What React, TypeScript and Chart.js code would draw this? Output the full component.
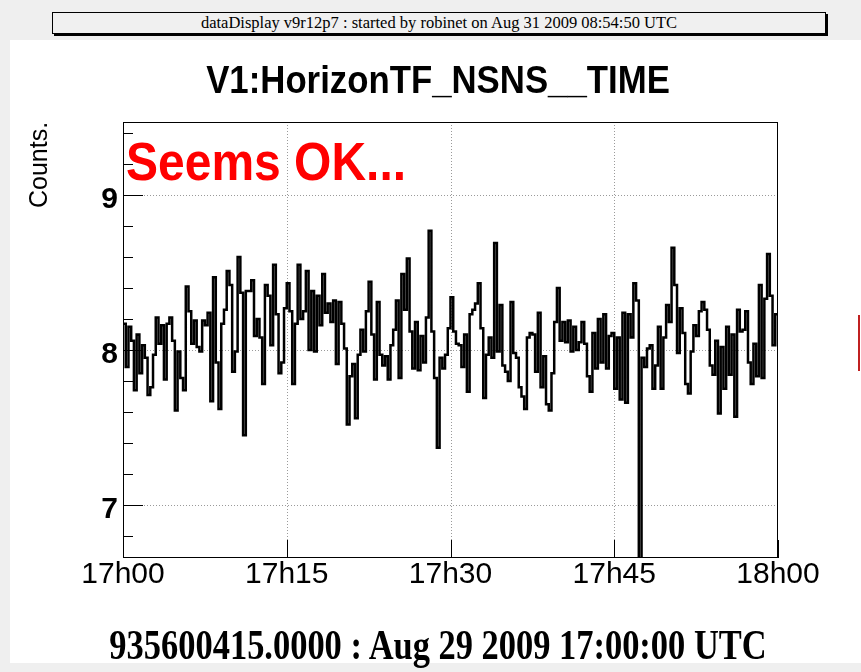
import React, { useEffect, useRef } from "react";
import { Chart, registerables } from "chart.js";

Chart.register(...registerables);

// ---- data ----
const tickLabels = ["17h00", "17h15", "17h30", "17h45", "18h00"];
const tickMinutes = [0, 15, 30, 45, 60];
const binMinutes = 0.25; // 15 s bins

// 17h00 - 17h15
const q1Counts = [
  8.17, 7.89, 8.15, 8.06, 7.74, 8.1, 7.85, 8.03, 7.95, 7.71,
  7.76, 7.97, 8.21, 8.04, 8.16, 7.81, 8.17, 8.21, 8.06, 7.61,
  7.99, 7.82, 7.74, 8.41, 8.25, 8.04, 8.19, 8.02, 7.99, 8.19,
  8.16, 8.24, 7.67, 8.47, 7.92, 7.62, 8.17, 8.26, 8.51, 8.42,
  7.86, 7.99, 8.6, 8.37, 7.45, 8.38, 8.38, 8.45, 8.09, 8.2,
  8.08, 7.78, 8.42, 8.35, 8.03, 8.55, 8.23, 7.85, 7.92, 8.27,
];
// 17h15 - 17h30
const q2Counts = [
  8.43, 8.25, 7.78, 8.17, 8.55, 8.2, 8.25, 8.51, 8.0, 8.38,
  7.99, 8.35, 8.16, 8.49, 8.24, 8.3, 8.18, 8.32, 7.91, 8.31,
  8.17, 8.01, 7.52, 7.83, 7.91, 7.56, 7.97, 8.13, 7.99, 8.25,
  8.44, 8.1, 7.81, 8.31, 7.97, 7.9, 7.96, 7.81, 8.03, 8.13,
  8.32, 7.82, 8.49, 8.26, 8.59, 8.12, 7.88, 8.18, 7.87, 8.09,
  7.92, 8.21, 8.77, 8.12, 7.82, 7.37, 7.95, 7.88, 7.97, 8.14,
];
// 17h30 - 17h45
const q3Counts = [
  8.34, 8.12, 8.04, 8.03, 7.89, 8.1, 7.73, 8.23, 8.26, 8.3,
  8.43, 8.14, 7.69, 7.97, 8.08, 7.95, 8.69, 7.99, 8.29, 7.9,
  7.86, 7.8, 8.31, 7.98, 7.95, 7.76, 7.7, 7.62, 8.08, 8.11,
  8.1, 7.86, 8.24, 7.76, 7.96, 7.65, 7.61, 7.85, 8.18, 8.4,
  8.06, 8.18, 8.05, 8.19, 7.99, 8.15, 8.0, 8.05, 8.18, 8.04,
  7.83, 7.73, 8.11, 7.88, 8.2, 7.92, 8.23, 7.88, 8.09, 8.11,
];
// 17h45 - 18h00
const q4Counts = [
  7.75, 8.08, 7.68, 8.24, 7.66, 8.23, 8.08, 8.43, 8.32, 6.5,
  7.95, 7.89, 8.01, 8.03, 7.75, 7.9, 8.15, 7.75, 8.08, 8.29,
  8.18, 8.66, 8.42, 7.98, 8.27, 8.11, 7.78, 7.72, 7.99, 8.16,
  8.09, 8.25, 8.31, 8.26, 8.13, 7.9, 7.84, 8.06, 7.59, 8.02,
  7.75, 8.15, 7.84, 8.1, 7.57, 8.26, 8.12, 8.13, 8.25, 7.92,
  7.78, 8.04, 7.83, 8.42, 7.82, 8.33, 8.62, 8.35, 8.03, 8.23,
];

const yMin = 6.658;
const yMax = 9.471;
const yMajorTicks = [7, 8, 9];
const yMinorStep = 0.2;

const SANS = "'Liberation Sans', Arial, Helvetica, sans-serif";
const SERIF = "'Liberation Serif', 'Times New Roman', serif";

export default function App() {
  const canvasRef = useRef<HTMLCanvasElement | null>(null);

  useEffect(() => {
    const canvas = canvasRef.current;
    if (!canvas) return;
    const counts = [...q1Counts, ...q2Counts, ...q3Counts, ...q4Counts];
    const pts = counts.map((v, i) => ({ x: i * binMinutes, y: v }));
    pts.push({ x: counts.length * binMinutes, y: counts[counts.length - 1] });

    const rootFrame = {
      id: "rootFrame",
      beforeDatasetsDraw(chart: any) {
        const { ctx, chartArea: a, scales } = chart;
        const x = scales.x;
        const y = scales.y;
        ctx.save();
        ctx.strokeStyle = "#9a9a9a";
        ctx.lineWidth = 1;
        ctx.setLineDash([1, 2]);
        for (const m of tickMinutes) {
          const px = Math.round(x.getPixelForValue(m)) + 0.5;
          if (px <= a.left + 1 || px >= a.right - 1) continue;
          ctx.beginPath();
          ctx.moveTo(px, a.top);
          ctx.lineTo(px, a.bottom);
          ctx.stroke();
        }
        for (const v of yMajorTicks) {
          const py = Math.round(y.getPixelForValue(v)) + 0.5;
          ctx.beginPath();
          ctx.moveTo(a.left, py);
          ctx.lineTo(a.right, py);
          ctx.stroke();
        }
        ctx.restore();
      },
      afterDatasetsDraw(chart: any) {
        const { ctx, chartArea: a, scales } = chart;
        const x = scales.x;
        const y = scales.y;
        ctx.save();
        ctx.strokeStyle = "#000";
        ctx.lineWidth = 1;
        ctx.setLineDash([]);
        ctx.strokeRect(Math.round(a.left) + 0.5, Math.round(a.top) + 0.5, Math.round(a.width) - 1, Math.round(a.height) - 1);
        // y ticks (inside, on left)
        const start = Math.ceil(yMin / yMinorStep - 1e-9);
        const end = Math.floor(yMax / yMinorStep + 1e-9);
        for (let k = start; k <= end; k++) {
          const v = k * yMinorStep;
          const major = Math.abs(v - Math.round(v)) < 1e-6;
          const py = Math.round(y.getPixelForValue(v)) + 0.5;
          ctx.beginPath();
          ctx.moveTo(a.left, py);
          ctx.lineTo(a.left + (major ? 20 : 10), py);
          ctx.stroke();
        }
        // x ticks (inside, on bottom)
        for (const m of tickMinutes) {
          const px = Math.round(x.getPixelForValue(m)) + 0.5;
          ctx.beginPath();
          ctx.moveTo(px, a.bottom);
          ctx.lineTo(px, a.bottom - 18);
          ctx.stroke();
        }
        ctx.restore();
      },
    };

    const chart = new Chart(canvas, {
      type: "line",
      data: {
        datasets: [
          {
            data: pts,
            borderColor: "#000",
            borderWidth: 2.5,
            pointRadius: 0,
            stepped: true,
            fill: false,
            tension: 0,
            clip: 0,
          } as any,
        ],
      },
      options: {
        animation: false,
        responsive: false,
        events: [],
        layout: { padding: { left: 0, right: 83, top: 122, bottom: 64 } },
        plugins: { legend: { display: false }, tooltip: { enabled: false }, title: { display: false } },
        scales: {
          x: {
            type: "linear",
            min: 0,
            max: 60,
            grid: { display: false, drawTicks: false },
            border: { display: false },
            afterFit(scale: any) {
              scale.height = 50;
              scale.paddingLeft = 0;
              scale.paddingRight = 0;
            },
            ticks: {
              stepSize: 15,
              autoSkip: false,
              maxRotation: 0,
              minRotation: 0,
              padding: 2,
              color: "#000",
              font: { family: SANS, size: 30, lineHeight: 1 },
              callback: (v: any) => {
                const i = tickMinutes.indexOf(Number(v));
                return i >= 0 ? tickLabels[i] : "";
              },
            },
          },
          y: {
            type: "linear",
            min: yMin,
            max: yMax,
            grid: { display: false, drawTicks: false },
            border: { display: false },
            afterFit(scale: any) {
              scale.width = 123;
              scale.paddingTop = 0;
              scale.paddingBottom = 0;
            },
            ticks: {
              stepSize: 1,
              includeBounds: false,
              autoSkip: false,
              padding: 5,
              color: "#000",
              font: { family: SANS, size: 30, weight: "bold", lineHeight: "10px" },
              callback: (v: any) => {
                const n = Number(v);
                return yMajorTicks.includes(n) ? ["", String(n)] : "";
              },
            },
          },
        },
      } as any,
      plugins: [rootFrame],
    });
    return () => chart.destroy();
  }, []);

  return (
    <div style={{ position: "absolute", left: 0, top: 0, width: 861, height: 672, background: "#efefef", overflow: "hidden" }}>
      <div style={{ position: "absolute", left: 10, top: 40, width: 851, height: 623, background: "#fff" }} />
      <div
        style={{
          position: "absolute", left: 52, top: 12, width: 772, height: 20,
          border: "1px solid #000", background: "#f0f0f0", boxShadow: "2px 2px 0 #000",
          textAlign: "center", fontFamily: SERIF, fontSize: 16.5, lineHeight: "20px", whiteSpace: "nowrap", color: "#000",
        }}
      >
        dataDisplay v9r12p7 : started by robinet on Aug 31 2009 08:54:50 UTC
      </div>
      <canvas ref={canvasRef} width={861} height={672} style={{ position: "absolute", left: 0, top: 0, width: 861, height: 672 }} />
      <div
        style={{
          position: "absolute", left: 0, top: 61, width: 876, textAlign: "center",
          fontFamily: SANS, fontWeight: "bold", fontSize: 38, lineHeight: "38px", whiteSpace: "nowrap",
          transform: "scaleX(0.915)", color: "#000",
        }}
      >
        V1:HorizonTF_NSNS__TIME
      </div>
      <div
        style={{
          position: "absolute", left: 126, top: 140, fontFamily: SANS, fontWeight: "bold", fontSize: 48,
          lineHeight: "48px", color: "#ff0000", whiteSpace: "nowrap",
          transform: "scaleY(1.12)", transformOrigin: "0 40px",
        }}
      >
        Seems OK...
      </div>
      <div
        style={{
          position: "absolute", left: 26, top: 208, fontFamily: SANS, fontSize: 25, lineHeight: "25px",
          whiteSpace: "nowrap", transform: "rotate(-90deg)", transformOrigin: "0 0", color: "#000",
        }}
      >
        Counts.
      </div>
      <div
        style={{
          position: "absolute", left: 0, top: 624, width: 876, textAlign: "center",
          fontFamily: SERIF, fontWeight: "bold", fontSize: 42, lineHeight: "42px", whiteSpace: "nowrap",
          transform: "scaleX(0.82)", color: "#000",
        }}
      >
        935600415.0000 : Aug 29 2009 17:00:00 UTC
      </div>
      <div style={{ position: "absolute", left: 858, top: 315, width: 2, height: 56, background: "#c02020" }} />
    </div>
  );
}
